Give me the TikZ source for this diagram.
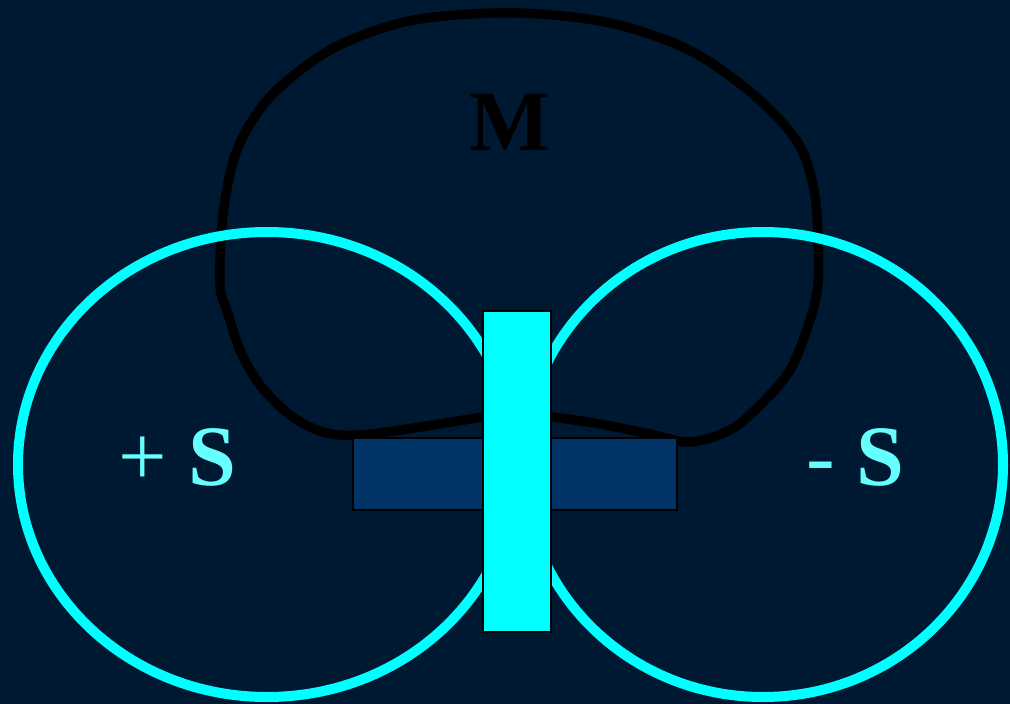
\documentclass[tikz,border=0pt]{standalone}
\usepackage{fontspec}
\setmainfont{Liberation Serif}
\usetikzlibrary{shapes.geometric}
\definecolor{fondo}{RGB}{0,25,50}
\definecolor{cian}{RGB}{0,255,255}
\definecolor{cianclaro}{RGB}{102,255,255}
\definecolor{azulbarra}{RGB}{0,51,102}

\begin{document}
\begin{tikzpicture}[
    x=1pt, y=-1pt,
    polo/.style = {draw=cian, line width=10pt, ellipse, inner sep=0pt},
    barra/.style = {draw=black, line width=2pt, inner sep=0pt},
    letra/.style = {font=\fontsize{86}{86}\selectfont, inner sep=0pt}
]

% Fondo
\fill[fondo] (0,0) rectangle (1010,704);
\useasboundingbox (0,0) rectangle (1010,704);

% --- ZONA M ---
\draw[black, line width=9.5pt] plot[smooth cycle, tension=0.55] coordinates {
    (220,285) (223,215) (237,150) (270,97) (330,50) (400,23) (470,14)
    (540,14) (615,24) (685,48) (738,82) (778,118) (802,150) (814,190)
    (818,235) (818,283) (810,320) (790,370) (760,405) (730,430) (690,442)
    (650,434) (600,424) (553,417) (510,412) (482,417) (420,427)
    (360,435) (323,432) (290,415) (260,385) (240,350) (227,310)
};
\node[letra, text=black, font=\fontsize{86}{86}\selectfont\bfseries] (m) at (510,122) {M};

% --- BARRA HORIZONTAL ---
\node[barra, fill=azulbarra, minimum width=324pt, minimum height=72pt] (horizontal) at (515,474) {};

% --- POLOS S ---
\node[polo, minimum width=498pt, minimum height=465pt] (izq) at (267,464.5) {};
\node[polo, minimum width=480pt, minimum height=465pt] (der) at (763,464.5) {};

% --- BARRA VERTICAL ---
\node[barra, fill=cian, minimum width=68pt, minimum height=321pt] (vertical) at (517,471.5) {};

% Etiquetas
\node[letra, text=cianclaro] (smas) at (177,457) {+ \textbf{S}};
\node[letra, text=cianclaro] (smenos) at (855,457) {- \textbf{S}};

\end{tikzpicture}
\end{document}
